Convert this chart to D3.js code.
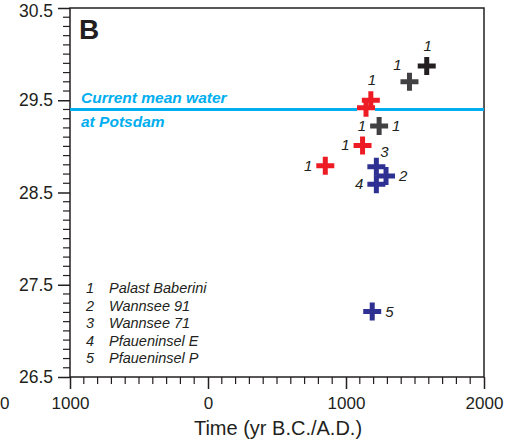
<!DOCTYPE html>
<html><head><meta charset="utf-8">
<script src="https://cdn.jsdelivr.net/npm/d3@7"></script>
<style>body{margin:0;background:#fff}svg{display:block}text{font-family:"Liberation Sans",Arial,sans-serif}</style>
</head><body><svg id="c" width="508" height="441"></svg>
<script>
const xTicks = [-1000, 0, 1000, 2000];
const xTickLabels = ["1000", "0", "1000", "2000"];
const yTicks = [26.5, 27.5, 28.5, 29.5, 30.5];
const waterLevel = 29.4;
// points: year, level, group colour key, label, label position
const years  = [1585, 1460, 1180, 1145, 1240, 1120, 850, 1220, 1290, 1220, 1190];
const levels = [29.87, 29.70, 29.50, 29.42, 29.22, 29.01, 28.79, 28.78, 28.68, 28.59, 27.21];
const groups = ["black","gray","red","red","gray","red","red","blue","blue","blue","blue"];
const labels = [["1"],["1"],["1"],[],["1","1"],["1"],["1"],["3"],["2"],["4"],["5"]];
const labelPos = [["top"],["topleft"],["top"],[],["left","right"],["left"],["left"],["topright"],["right"],["left"],["right"]];
const legendNums = ["1","2","3","4","5"];
const legendNames = ["Palast Baberini","Wannsee 91","Wannsee 71","Pfaueninsel E","Pfaueninsel P"];
const colors = {black:"#231f20", gray:"#414042", red:"#ed1c24", blue:"#2e3192"};

const svg = d3.select("#c");
const L=70, R=484, T=8, B=377;
const x = d3.scaleLinear().domain([-1000,2000]).range([L,R]);
const y = d3.scaleLinear().domain([26.5,30.5]).range([B,T]);
const ink = "#231f20";

// frame
svg.append("rect").attr("x",L).attr("y",T).attr("width",R-L).attr("height",B-T)
  .attr("fill","none").attr("stroke",ink).attr("stroke-width",1.5);

// x axis (ticks outward)
const xAxis = d3.axisBottom(x).tickValues(xTicks).tickFormat((d,i)=>xTickLabels[i]).tickSize(12).tickSizeOuter(0);
const gx = svg.append("g").attr("transform",`translate(0,${B})`).call(xAxis);
gx.select(".domain").remove();
gx.selectAll(".tick line").attr("stroke",ink).attr("stroke-width",1.5);
gx.selectAll("text").attr("font-size",17).attr("fill",ink).attr("y",20).attr("dy","0.71em");
const xMinor = d3.range(-1000,2001,100).filter(v=>v%1000!==0);
svg.append("g").selectAll("line").data(xMinor).join("line")
  .attr("x1",d=>x(d)).attr("x2",d=>x(d)).attr("y1",B).attr("y2",B+7)
  .attr("stroke",ink).attr("stroke-width",1.2);
svg.append("text").attr("x",0).attr("y",409).attr("font-size",17).attr("fill",ink).text("0");
svg.append("text").attr("x",278).attr("y",435).attr("text-anchor","middle").attr("font-size",20).attr("fill",ink).text("Time (yr B.C./A.D.)");

// y axis (ticks outward)
const yAxis = d3.axisLeft(y).tickValues(yTicks).tickFormat(d3.format(".1f")).tickSize(12).tickSizeOuter(0);
const gy = svg.append("g").attr("transform",`translate(${L},0)`).call(yAxis);
gy.select(".domain").remove();
gy.selectAll(".tick line").attr("stroke",ink).attr("stroke-width",1.5);
gy.selectAll("text").attr("font-size",17.5).attr("fill",ink).attr("x",-17)
  .attr("y", d => d === 30.5 ? 3 : 0);
const yMinor = d3.range(265,306,1).map(v=>v/10).filter(v=>Math.round(v*10)%10!==5);
svg.append("g").selectAll("line").data(yMinor).join("line")
  .attr("x1",L).attr("x2",L-7).attr("y1",d=>y(d)).attr("y2",d=>y(d))
  .attr("stroke",ink).attr("stroke-width",1.2);

// water line
svg.append("line").attr("x1",L).attr("x2",R).attr("y1",y(waterLevel)).attr("y2",y(waterLevel))
  .attr("stroke","#00aeef").attr("stroke-width",3);
svg.append("text").attr("x",81).attr("y",y(waterLevel)-6).attr("font-size",15.5).attr("font-weight","bold").attr("font-style","italic").attr("fill","#00aeef").text("Current mean water");
svg.append("text").attr("x",81).attr("y",y(waterLevel)+18).attr("font-size",15.5).attr("font-weight","bold").attr("font-style","italic").attr("fill","#00aeef").text("at Potsdam");

// panel letter
svg.append("text").attr("x",79).attr("y",39).attr("font-size",28).attr("font-weight","bold").attr("fill",ink).text("B");

// crosses
const arm = 9, th = 5;
const pts = years.map((v,i)=>({x:x(v), y:y(levels[i]), c:colors[groups[i]], labels:labels[i], pos:labelPos[i]}));
const gp = svg.append("g");
pts.forEach(p=>{
  const path = `M${p.x-arm},${p.y}H${p.x+arm}M${p.x},${p.y-arm}V${p.y+arm}`;
  gp.append("path").attr("d",path).attr("stroke","#fff").attr("stroke-width",th+3).attr("fill","none");
});
pts.forEach(p=>{
  const path = `M${p.x-arm},${p.y}H${p.x+arm}M${p.x},${p.y-arm}V${p.y+arm}`;
  gp.append("path").attr("d",path).attr("stroke",p.c).attr("stroke-width",th).attr("fill","none");
});
const off = {top:[1,-15,"middle"], topleft:[-12,-12,"middle"], left:[-13,5,"end"], right:[13,5,"start"], topright:[8,-10,"middle"]};
pts.forEach(p=>{
  p.labels.forEach((t,j)=>{
    const o = off[p.pos[j]];
    svg.append("text").attr("x",p.x+o[0]).attr("y",p.y+o[1]).attr("text-anchor",o[2])
      .attr("font-size",15).attr("font-style","italic").attr("fill",ink).text(t);
  });
});

// legend
const lg = svg.append("g");
legendNums.forEach((n,i)=>{
  const yy = 293 + i*17.6;
  lg.append("text").attr("x",86).attr("y",yy).attr("font-size",14.5).attr("font-style","italic").attr("fill",ink).text(n);
  lg.append("text").attr("x",109).attr("y",yy).attr("font-size",14.5).attr("font-style","italic").attr("fill",ink).text(legendNames[i]);
});
</script></body></html>
